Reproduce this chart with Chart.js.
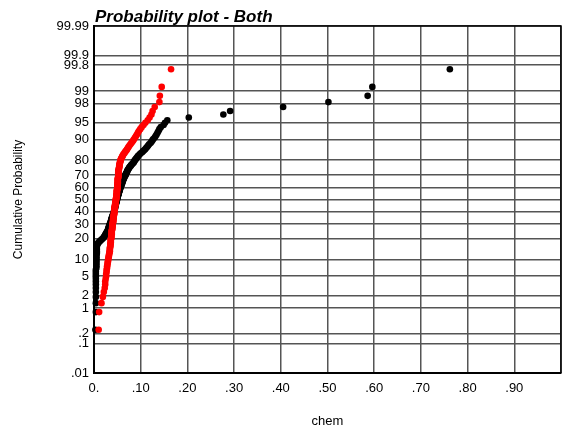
<!DOCTYPE html>
<html lang="en">
  <head>
    <meta charset="UTF-8" />
    <title>Probability plot - Both</title>
    <style>
      html, body { margin: 0; padding: 0; background: #fff; }
      #wrap { width: 565px; height: 429px; }
    </style>
  </head>
  <body>
    <div id="wrap"><canvas id="myChart" width="565" height="429"></canvas></div>
  <script src="https://cdn.jsdelivr.net/npm/chart.js"></script>
  <script>
    // chem values, one entry per sample (sorted low -> high)
    var redChem = [
      0.010, 0.011, 0.016, 0.019, 0.021, 0.023, 0.024, 0.024, 0.025, 0.026,
      0.026, 0.027, 0.027, 0.028, 0.028,
      0.029, 0.029, 0.030, 0.030, 0.031, 0.031, 0.032, 0.032, 0.033, 0.033, 0.034, 0.034,
      0.034, 0.034, 0.035, 0.035, 0.035, 0.035, 0.036, 0.036, 0.036, 0.036, 0.036, 0.037, 0.037, 0.037, 0.037, 0.037, 0.038, 0.038,
      0.038, 0.038, 0.038, 0.038, 0.039, 0.039, 0.039, 0.039, 0.039, 0.040, 0.040, 0.040, 0.040, 0.040, 0.041, 0.041, 0.041, 0.041,
      0.041, 0.041, 0.042, 0.042, 0.042, 0.042, 0.042, 0.043, 0.043, 0.043, 0.043, 0.043, 0.043, 0.044, 0.044, 0.044, 0.044, 0.044, 0.044, 0.045, 0.045, 0.045,
      0.045, 0.045, 0.046, 0.046, 0.046, 0.046, 0.046, 0.047, 0.047, 0.047, 0.047, 0.047, 0.048, 0.048,
      0.048, 0.048, 0.048, 0.048, 0.049, 0.049, 0.049, 0.049, 0.049, 0.049, 0.049, 0.049,
      0.050, 0.050, 0.050, 0.050, 0.050, 0.050, 0.050, 0.050, 0.050,
      0.051, 0.051, 0.051, 0.051, 0.051, 0.051, 0.051, 0.051, 0.051,
      0.052, 0.052, 0.052, 0.052, 0.052, 0.052, 0.052, 0.052,
      0.052, 0.052, 0.053, 0.053, 0.053, 0.054, 0.054, 0.054, 0.054, 0.055, 0.055, 0.055, 0.056,
      0.056, 0.057, 0.057, 0.058, 0.059, 0.060,
      0.061, 0.062, 0.063, 0.065, 0.066, 0.068, 0.070,
      0.071, 0.073, 0.074, 0.076, 0.078, 0.080, 0.082, 0.084,
      0.086, 0.088, 0.090, 0.092, 0.094,
      0.096, 0.099, 0.102,
      0.106, 0.110, 0.115, 0.119, 0.123,
      0.1255, 0.130, 0.140, 0.141, 0.145, 0.165
    ];
    var blackChem = [
      0.003, 0.004, 0.004,
      0.004, 0.004, 0.004, 0.004, 0.004, 0.004, 0.004, 0.004, 0.004, 0.004,
      0.005, 0.005, 0.005, 0.005, 0.005, 0.005, 0.005, 0.005, 0.005, 0.005,
      0.006, 0.006, 0.006, 0.006, 0.006, 0.006, 0.006, 0.006,
      0.007, 0.008, 0.009, 0.011, 0.013,
      0.015, 0.017, 0.019, 0.021,
      0.022, 0.023, 0.024, 0.025, 0.026, 0.027, 0.028, 0.029, 0.030,
      0.030, 0.031, 0.031, 0.032, 0.032, 0.033, 0.033, 0.034, 0.035, 0.035, 0.036,
      0.036, 0.037, 0.037, 0.037, 0.038, 0.038, 0.039, 0.039, 0.040, 0.040, 0.041, 0.041, 0.042, 0.042, 0.043,
      0.043, 0.043, 0.044, 0.044, 0.044, 0.045, 0.045, 0.045, 0.045, 0.046, 0.046, 0.046, 0.047, 0.047, 0.047, 0.048, 0.048, 0.048, 0.049, 0.049,
      0.049, 0.050, 0.050, 0.050, 0.051, 0.051, 0.051, 0.052, 0.052, 0.053, 0.053, 0.053, 0.054, 0.054, 0.055, 0.055,
      0.055, 0.056, 0.056, 0.057, 0.057, 0.058, 0.058, 0.059, 0.059, 0.060, 0.060, 0.061, 0.061, 0.062, 0.062, 0.063, 0.063, 0.064,
      0.065, 0.065, 0.066, 0.067, 0.068, 0.068, 0.069, 0.070, 0.071, 0.071, 0.072, 0.073, 0.074, 0.075,
      0.076, 0.077, 0.079, 0.080, 0.082, 0.083, 0.085,
      0.086, 0.087, 0.088, 0.090, 0.091, 0.093, 0.094, 0.096,
      0.098, 0.100, 0.103, 0.105, 0.108,
      0.110, 0.112, 0.114, 0.116, 0.118, 0.121,
      0.123, 0.125, 0.127, 0.130, 0.132,
      0.134, 0.136, 0.138, 0.140,
      0.143, 0.149, 0.152, 0.157,
      0.203, 0.277, 0.2915, 0.405, 0.502, 0.586, 0.596, 0.762
    ];

    var yTickPercents = [0.01, 0.1, 0.2, 1, 2, 5, 10, 20, 30, 40, 50, 60, 70, 80, 90, 95, 98, 99, 99.8, 99.9, 99.99];
    var yTickLabels = [".01", ".1", ".2", "1", "2", "5", "10", "20", "30", "40", "50", "60", "70", "80", "90", "95", "98", "99", "99.8", "99.9", "99.99"];
    var xTickValues = [0, 0.1, 0.2, 0.3, 0.4, 0.5, 0.6, 0.7, 0.8, 0.9, 1.0];
    var xTickLabels = ["0.", ".10", ".20", ".30", ".40", ".50", ".60", ".70", ".80", ".90", ""];

    // inverse normal cdf (Acklam)
    function probit(p) {
      var a = [-39.69683028665376, 220.9460984245205, -275.9285104469687, 138.357751867269, -30.66479806614716, 2.506628277459239];
      var b = [-54.47609879822406, 161.5858368580409, -155.6989798598866, 66.80131188771972, -13.28068155288572];
      var c = [-0.007784894002430293, -0.3223964580411365, -2.400758277161838, -2.549732539343734, 4.374664141464968, 2.938163982698783];
      var d = [0.007784695709041462, 0.3224671290700398, 2.445134137142996, 3.754408661907416];
      var plow = 0.02425, q, r;
      if (p < plow) {
        q = Math.sqrt(-2 * Math.log(p));
        return (((((c[0]*q+c[1])*q+c[2])*q+c[3])*q+c[4])*q+c[5]) / ((((d[0]*q+d[1])*q+d[2])*q+d[3])*q+1);
      }
      if (p > 1 - plow) {
        q = Math.sqrt(-2 * Math.log(1 - p));
        return -(((((c[0]*q+c[1])*q+c[2])*q+c[3])*q+c[4])*q+c[5]) / ((((d[0]*q+d[1])*q+d[2])*q+d[3])*q+1);
      }
      q = p - 0.5; r = q * q;
      return (((((a[0]*r+a[1])*r+a[2])*r+a[3])*r+a[4])*r+a[5])*q / (((((b[0]*r+b[1])*r+b[2])*r+b[3])*r+b[4])*r+1);
    }

    // plotting position (i - 0.5) / n
    function toPoints(vals) {
      var s = vals.slice().sort(function (a, b) { return a - b; });
      return s.map(function (v, i) {
        return { x: v, y: probit((i + 0.5) / s.length) };
      });
    }

    var titlePlugin = {
      id: "plotTitle",
      afterDraw: function (chart) {
        var ctx = chart.ctx, area = chart.chartArea;
        ctx.save();
        ctx.strokeStyle = "#000";
        ctx.lineWidth = 1.5;
        ctx.beginPath();
        ctx.moveTo(area.left, area.top);
        ctx.lineTo(area.right, area.top);
        ctx.lineTo(area.right, area.bottom);
        ctx.stroke();
        ctx.fillStyle = "#000";
        ctx.font = "italic bold 17px 'Liberation Sans', Arial, sans-serif";
        ctx.textBaseline = "alphabetic";
        ctx.textAlign = "left";
        ctx.fillText("Probability plot - Both", area.left + 1, area.top - 4);
        ctx.restore();
      }
    };

    Chart.defaults.font.family = "'Liberation Sans', Arial, sans-serif";
    Chart.defaults.font.size = 13;
    Chart.defaults.color = "#000";

    var gridStyle = { color: "#555", lineWidth: 1.5, drawTicks: false };

    var config = {
      type: "scatter",
      data: {
        datasets: [
          {
            label: "red",
            data: toPoints(redChem),
            backgroundColor: "#ff0000",
            borderWidth: 0,
            pointRadius: 3.3,
            clip: false
          },
          {
            label: "black",
            data: toPoints(blackChem),
            backgroundColor: "#000000",
            borderWidth: 0,
            pointRadius: 3.3,
            clip: false
          }
        ]
      },
      options: {
        responsive: false,
        animation: false,
        devicePixelRatio: 1,
        layout: { padding: { top: 26, right: -2, left: 0, bottom: 0 } },
        plugins: {
          legend: { display: false },
          tooltip: { enabled: false }
        },
        scales: {
          x: {
            type: "linear",
            min: 0,
            max: 1,
            afterBuildTicks: function (scale) {
              scale.ticks = xTickValues.map(function (v) { return { value: v }; });
            },
            afterFit: function (scale) {
              scale.height = 56;
              scale.paddingLeft = 0;
              scale.paddingRight = 0;
            },
            ticks: {
              padding: 8,
              maxRotation: 0,
              autoSkip: false,
              callback: function (v, i) { return xTickLabels[i]; }
            },
            grid: gridStyle,
            border: { color: "#000", width: 2 },
            title: { display: true, text: "chem", font: { size: 13 }, padding: { top: 0, bottom: 0 } }
          },
          y: {
            type: "linear",
            min: probit(0.0001),
            max: probit(0.9999),
            afterBuildTicks: function (scale) {
              scale.ticks = yTickPercents.map(function (p) { return { value: probit(p / 100) }; });
            },
            afterFit: function (scale) {
              scale.width = 94;
              scale.paddingTop = 0;
              scale.paddingBottom = 0;
            },
            ticks: {
              padding: 5,
              autoSkip: false,
              callback: function (v, i) { return yTickLabels[i]; }
            },
            grid: gridStyle,
            border: { color: "#000", width: 2 },
            title: { display: true, text: "Cumulative Probability", font: { size: 12 }, padding: { top: 11, bottom: 0 } }
          }
        }
      },
      plugins: [titlePlugin]
    };

    var myChart = new Chart(document.getElementById("myChart"), config);
  </script>
  </body>
</html>
